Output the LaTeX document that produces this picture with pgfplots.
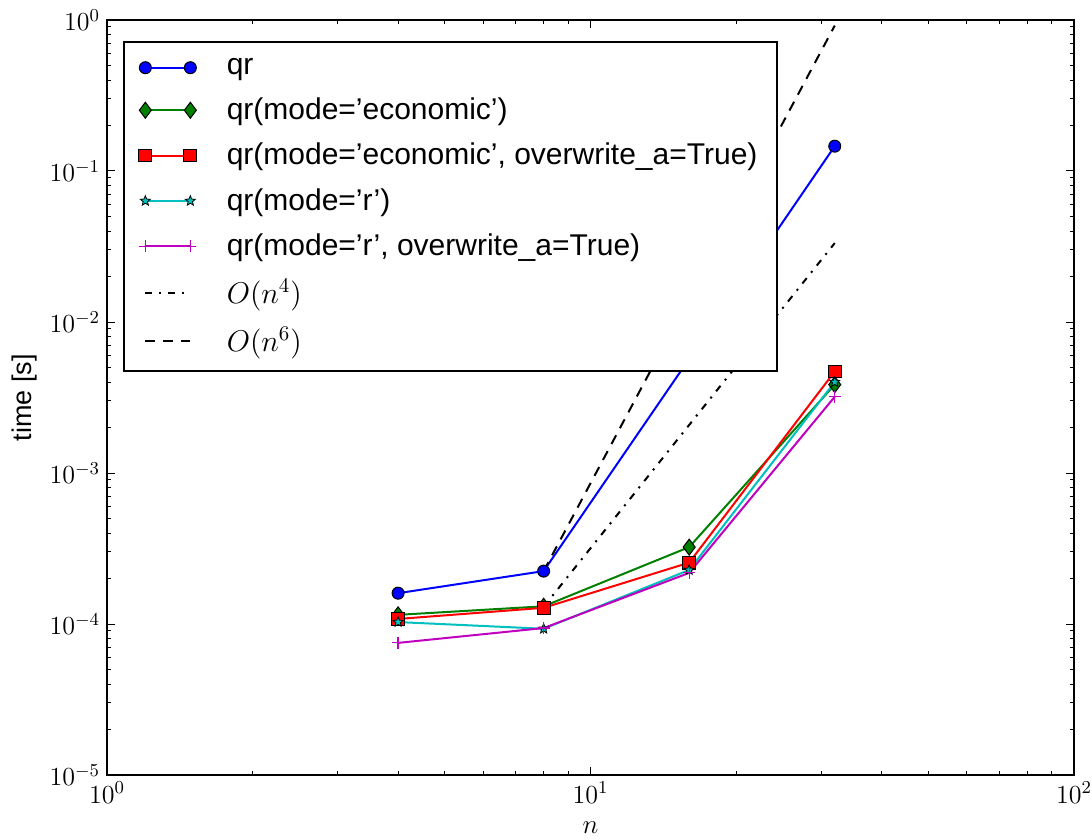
\RequirePackage{fix-cm}
\documentclass[border=0pt]{standalone}
\usepackage{fontspec}
\setmainfont{Liberation Sans}
\usepackage{pgfplots}
\pgfplotsset{compat=1.18}
\definecolor{mgreen}{rgb}{0,0.5,0}
\definecolor{mcyan}{rgb}{0,0.75,0.75}
\definecolor{mmag}{rgb}{0.75,0,0.75}
\pgfdeclareplotmark{fstar}{%
  \pgfpathmoveto{\pgfpointpolar{90}{\pgfplotmarksize}}%
  \pgfpathlineto{\pgfpointpolar{126}{0.45\pgfplotmarksize}}%
  \pgfpathlineto{\pgfpointpolar{162}{\pgfplotmarksize}}%
  \pgfpathlineto{\pgfpointpolar{198}{0.45\pgfplotmarksize}}%
  \pgfpathlineto{\pgfpointpolar{234}{\pgfplotmarksize}}%
  \pgfpathlineto{\pgfpointpolar{270}{0.45\pgfplotmarksize}}%
  \pgfpathlineto{\pgfpointpolar{306}{\pgfplotmarksize}}%
  \pgfpathlineto{\pgfpointpolar{342}{0.45\pgfplotmarksize}}%
  \pgfpathlineto{\pgfpointpolar{18}{\pgfplotmarksize}}%
  \pgfpathlineto{\pgfpointpolar{54}{0.45\pgfplotmarksize}}%
  \pgfpathclose
  \pgfusepathqfillstroke}
\begin{document}
\begin{tikzpicture}
\path[use as bounding box] (-53.5pt,-32.5pt) rectangle (492.5pt,387.5pt);
\begin{axis}[
  xmode=log, ymode=log,
  xmin=1, xmax=100, ymin=1e-5, ymax=1,
  scale only axis, width=483.5pt, height=377.5pt,
  axis line style={line width=0.8pt},
  tick style={black, line width=0.5pt},
  major tick length=4pt, minor tick length=2pt,
  tick label style={font=\fontsize{13}{15}\selectfont},
  xlabel={$n$}, ylabel={time [s]},
  label style={font=\fontsize{13.5}{16}\selectfont},
  xlabel style={at={(axis description cs:0.5,0)}, anchor=center, yshift=-26.5pt},
  ylabel style={at={(axis description cs:-0.0848,0.5)}, anchor=center},
  legend style={at={(0.0165,0.972)}, anchor=north west, draw=black, line width=1pt,
    fill=white, inner xsep=7.5pt, inner ysep=6pt, row sep=6.3pt, column sep=13pt,
    font=\fontsize{15}{18}\selectfont},
  legend cell align=left,
  legend image code/.code={\draw[#1] plot coordinates {(0pt,0pt) (22.5pt,0pt)};},
]
\addplot[blue, line width=1pt, mark=*, mark size=3pt, mark options={draw=black, fill=blue, line width=0.5pt}]
  coordinates {(4,1.60e-4) (8,2.24e-4) (16,5.7e-3) (32,0.146)};
\addlegendentry{qr}
\addplot[mgreen, line width=1pt, mark=diamond*, mark size=4pt, mark options={draw=black, fill=mgreen, line width=0.5pt}]
  coordinates {(4,1.15e-4) (8,1.31e-4) (16,3.23e-4) (32,3.85e-3)};
\addlegendentry{qr(mode='economic')}
\addplot[red, line width=1pt, mark=square*, mark size=3.2pt, mark options={draw=black, fill=red, line width=0.5pt}]
  coordinates {(4,1.08e-4) (8,1.28e-4) (16,2.55e-4) (32,4.7e-3)};
\addlegendentry{qr(mode='economic', overwrite\_a=True)}
\addplot[mcyan, line width=1pt, mark=fstar, mark size=2.6pt, mark options={draw=black, fill=mcyan, line width=0.4pt}]
  coordinates {(4,1.03e-4) (8,9.3e-5) (16,2.28e-4) (32,4.0e-3)};
\addlegendentry{qr(mode='r')}
\addplot[mmag, line width=1pt, mark=+, mark size=3pt, mark options={mmag, line width=0.6pt}]
  coordinates {(4,7.5e-5) (8,9.4e-5) (16,2.18e-4) (32,3.2e-3)};
\addlegendentry{qr(mode='r', overwrite\_a=True)}
\addplot[black, line width=1pt, dash pattern=on 3.5pt off 3.5pt on 1pt off 3.5pt]
  coordinates {(8,1.3e-4) (16,2.08e-3) (32,3.33e-2)};
\addlegendentry{$O(n^4)$}
\addplot[black, line width=1pt, dash pattern=on 5pt off 4pt]
  coordinates {(8,2.24e-4) (16,1.434e-2) (32,0.918)};
\addlegendentry{$O(n^6)$}
\end{axis}
\end{tikzpicture}
\end{document}
